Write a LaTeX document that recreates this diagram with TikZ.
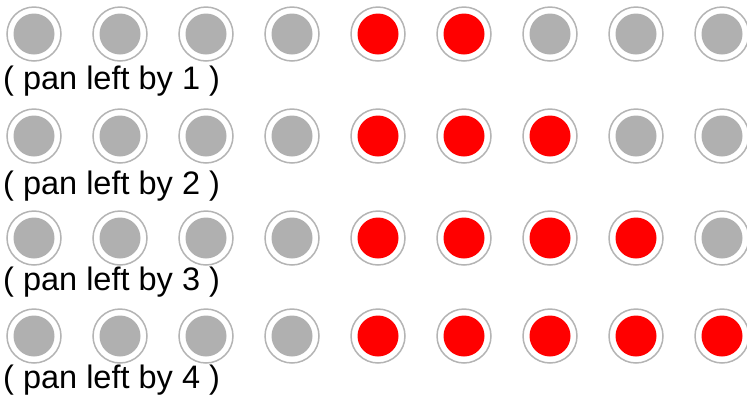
\documentclass[tikz,border=0pt]{standalone}
\usepackage{fontspec}
\setmainfont{Liberation Sans}
\definecolor{ledoff}{RGB}{176,176,176}
\definecolor{ledon}{RGB}{255,0,0}
\definecolor{ledrim}{RGB}{180,180,180}

\begin{document}
\begin{tikzpicture}[x=1pt,y=-1pt]
\useasboundingbox (0,0) rectangle (747,400);
\clip (0,0) rectangle (747,400);
\foreach \n/\row/\base/\last in {1/34/89/6,2/136/194/7,3/238/290/8,4/336/388/9} {
  \foreach \i in {1,...,9} {
    \pgfmathsetmacro{\cx}{34+86*(\i-1)}
    \ifnum\i<5 \def\ledc{ledoff}\else\ifnum\i>\last \def\ledc{ledoff}\else\def\ledc{ledon}\fi\fi
    \draw[ledrim,line width=1.5pt,fill=white] (\cx,\row) circle (27pt);
    \fill[\ledc] (\cx,\row) circle (20.5pt);
  }
  \node[anchor=base west,inner sep=0pt,font=\fontsize{32.5}{38}\selectfont] (pan\n) at (3,\base) {( pan left by \n{} )};
}
\end{tikzpicture}
\end{document}
